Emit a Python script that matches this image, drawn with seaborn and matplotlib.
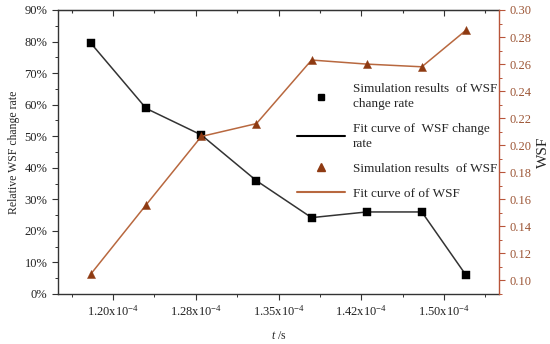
import numpy as np
import pandas as pd
import matplotlib
matplotlib.use("Agg")
import matplotlib.pyplot as plt
import seaborn as sns
from matplotlib.ticker import MultipleLocator, FixedLocator
from matplotlib.lines import Line2D

# ---- data ----
t_values = [1.18, 1.23, 1.28, 1.33, 1.38, 1.43, 1.48, 1.52]
rate_pct = [79.4, 58.8, 50.4, 35.9, 24.2, 26.0, 26.0, 6.0]
wsf = [0.105, 0.156, 0.2065, 0.216, 0.263, 0.260, 0.258, 0.285]
x_tick_pos = [1.2, 1.275, 1.35, 1.425, 1.5]
x_tick_labels = ["1.20", "1.28", "1.35", "1.42", "1.50"]
legend_labels = ["Simulation results  of WSF\nchange rate",
                 "Fit curve of  WSF change\nrate",
                 "Simulation results  of WSF",
                 "Fit curve of of WSF"]

df = pd.DataFrame({"t": t_values, "rate": np.array(rate_pct) / 100.0, "wsf": wsf})

sns.set_style("ticks")
plt.rcParams["font.family"] = ["Liberation Serif", "DejaVu Serif"]
plt.rcParams["mathtext.fontset"] = "custom"
plt.rcParams["mathtext.rm"] = "Liberation Serif"
plt.rcParams["mathtext.it"] = "Liberation Serif:italic"

dark = "#333333"
brown_line = "#B8683F"
brown_mark = "#8E3A12"
red_axis = "#B8553A"
red_text = "#9C5535"

fig = plt.figure(figsize=(5.5, 3.44), dpi=100)
ax = fig.add_axes([58 / 550, 1 - 294 / 344, (499 - 58) / 550, (294 - 10) / 344])
ax2 = ax.twinx()

sns.lineplot(data=df, x="t", y="rate", ax=ax, color=dark, linewidth=1.1, zorder=2)
sns.scatterplot(data=df, x="t", y="rate", ax=ax, marker="s", s=26, color="black",
                edgecolor="black", linewidth=0.3, zorder=3)
sns.lineplot(data=df, x="t", y="wsf", ax=ax2, color=brown_line, linewidth=1.1, zorder=2)
sns.scatterplot(data=df, x="t", y="wsf", ax=ax2, marker="^", s=34, color=brown_mark,
                edgecolor=brown_mark, linewidth=0.3, zorder=3)

ax.set_xlim(1.15, 1.55)
ax.set_ylim(0, 0.9)
ax2.set_ylim(0.09, 0.30)

ax.set_xticks(x_tick_pos)
ax.set_xticklabels([lab + r"x10$^{\mathregular{-4}}$" for lab in x_tick_labels])
ax.xaxis.set_minor_locator(FixedLocator([p + 0.0375 for p in [1.125] + x_tick_pos]))
ax.set_yticks(np.arange(0, 0.91, 0.1))
ax.set_yticklabels([f"{int(round(v * 100))}%" for v in np.arange(0, 0.91, 0.1)])
ax.yaxis.set_minor_locator(MultipleLocator(0.05))
ax2.set_yticks(np.arange(0.10, 0.301, 0.02))
ax2.set_yticklabels([f"{v:.2f}" for v in np.arange(0.10, 0.301, 0.02)])
ax2.yaxis.set_minor_locator(MultipleLocator(0.01))

ax.tick_params(axis="both", which="major", direction="out", length=4, width=0.8,
               color=dark, labelsize=9, labelcolor="#222222")
ax.tick_params(axis="both", which="minor", direction="out", length=2.5, width=0.7, color=dark)
ax2.tick_params(axis="y", which="major", direction="out", length=4, width=0.8,
                color=red_axis, labelsize=9, labelcolor=red_text)
ax2.tick_params(axis="y", which="minor", direction="out", length=2.5, width=0.7, color=red_axis)

top = ax.secondary_xaxis("top")
top.set_xticks(x_tick_pos)
top.xaxis.set_minor_locator(FixedLocator([p + 0.0375 for p in [1.125] + x_tick_pos]))
top.tick_params(axis="x", which="both", direction="in", labeltop=False, color=dark, width=0.8)
top.tick_params(axis="x", which="major", length=4)
top.tick_params(axis="x", which="minor", length=2.5)
top.spines["top"].set_color(dark)

for sp in ["left", "bottom", "top"]:
    ax.spines[sp].set_visible(True)
    ax.spines[sp].set_color(dark)
    ax.spines[sp].set_linewidth(1.0)
    ax2.spines[sp].set_visible(False)
ax.spines["right"].set_visible(False)
ax2.spines["right"].set_visible(True)
ax2.spines["right"].set_color(red_axis)
ax2.spines["right"].set_linewidth(1.0)

ax.set_xlabel(r"$\it{t}$ /s", fontsize=8.5, labelpad=8)
ax.set_ylabel("Relative WSF change rate", fontsize=8.5, labelpad=3)
ax2.set_ylabel("WSF", fontsize=11, labelpad=4)

# legend
handles = [
    Line2D([], [], linestyle="none", marker="s", markersize=5, color="black"),
    Line2D([], [], color="black", linewidth=1.5),
    Line2D([], [], linestyle="none", marker="^", markersize=6, color=brown_mark),
    Line2D([], [], color=brown_line, linewidth=1.5),
]
leg = ax2.legend(handles, legend_labels, loc="upper left",
                 bbox_to_anchor=(288 / 550, 1 - 74 / 344), bbox_transform=fig.transFigure,
                 frameon=False, fontsize=9.5, handlelength=3.6, handletextpad=0.6,
                 labelspacing=0.95, borderpad=0.2)
for txt in leg.get_texts():
    txt.set_linespacing(1.35)
if ax.get_legend() is not None:
    ax.get_legend().remove()

fig.savefig("out.png", dpi=100)
